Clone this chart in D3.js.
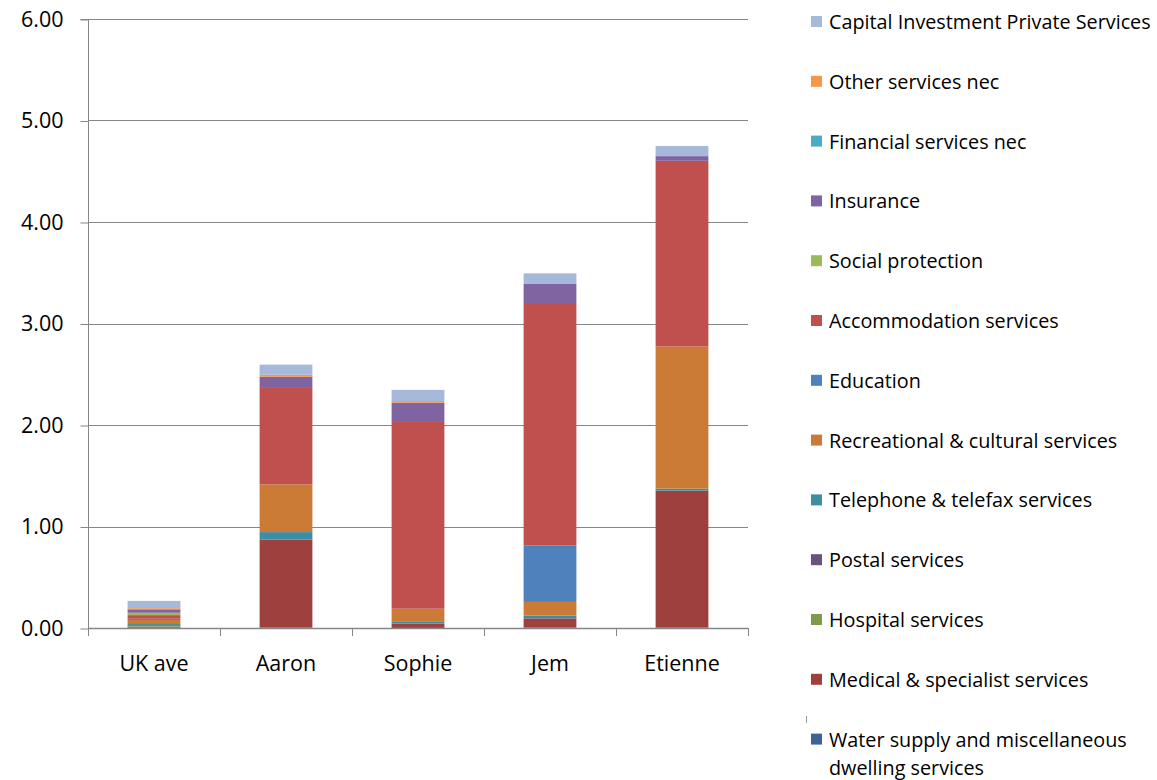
<!DOCTYPE html>
<html>
<head>
<meta charset="utf-8">
<script src="https://cdn.jsdelivr.net/npm/d3@7/dist/d3.min.js"></script>
<style>
  html, body { margin: 0; padding: 0; background: #fff; }
  svg { display: block; }
  text { font-family: "Open Sans", sans-serif; fill: #000; }
</style>
</head>
<body>
<svg id="chart" width="1157" height="780"></svg>
<script>
// Categories along the x axis
const categories = ["UK ave", "Aaron", "Sophie", "Jem", "Etienne"];

// Spending per category, one array per service (stack order, bottom to top)
const waterSupply      = [0.005, 0.005, 0.010, 0.005, 0.005];
const medical          = [0.008, 0.865, 0.030, 0.090, 1.348];
const hospital         = [0.006, 0.000, 0.000, 0.000, 0.000];
const postal           = [0.008, 0.000, 0.005, 0.000, 0.000];
const telephone        = [0.012, 0.075, 0.015, 0.027, 0.020];
const recreational     = [0.040, 0.470, 0.130, 0.135, 1.400];
const education        = [0.012, 0.000, 0.000, 0.555, 0.000];
const accommodation    = [0.036, 0.950, 1.840, 2.390, 1.830];
const socialProtection = [0.023, 0.000, 0.000, 0.000, 0.000];
const insurance        = [0.033, 0.110, 0.190, 0.187, 0.046];
const financial        = [0.007, 0.000, 0.000, 0.000, 0.000];
const otherServices    = [0.007, 0.020, 0.016, 0.000, 0.000];
const capitalInvest    = [0.070, 0.100, 0.110, 0.105, 0.100];

const seriesNames = [
  "Water supply and miscellaneous dwelling services",
  "Medical & specialist services",
  "Hospital services",
  "Postal services",
  "Telephone & telefax services",
  "Recreational & cultural services",
  "Education",
  "Accommodation services",
  "Social protection",
  "Insurance",
  "Financial services nec",
  "Other services nec",
  "Capital Investment Private Services"
];
const seriesValues = [waterSupply, medical, hospital, postal, telephone, recreational,
  education, accommodation, socialProtection, insurance, financial, otherServices, capitalInvest];
const seriesColors = ["#3E6497", "#9E413E", "#7F9A48", "#69537E", "#3D8DA4", "#CB7B35",
  "#4F81BD", "#C0504D", "#9BBB59", "#8064A2", "#4BACC6", "#F79646", "#A7B9DA"];

const yTicks = [0, 1, 2, 3, 4, 5, 6];

const svg = d3.select("#chart");
const plot = { left: 88, right: 748, top: 19, bottom: 628 };

const x = d3.scaleBand().domain(categories).range([plot.left, plot.right]).padding(0);
const y = d3.scaleLinear().domain([0, 6]).range([plot.bottom, plot.top]);
const barW = x.bandwidth() * 0.4;

// Build the stack from the per-series arrays
const rows = categories.map((c, i) => {
  const r = { cat: c };
  seriesNames.forEach((s, k) => { r[s] = seriesValues[k][i]; });
  return r;
});
const stacked = d3.stack().keys(seriesNames)(rows);

// Horizontal gridlines
svg.append("g").selectAll("line").data(yTicks.filter(d => d > 0)).join("line")
  .attr("x1", plot.left).attr("x2", plot.right)
  .attr("y1", d => Math.round(y(d)) + 0.5).attr("y2", d => Math.round(y(d)) + 0.5)
  .attr("stroke", "#868686").attr("stroke-width", 1);

// Bars
svg.append("g").selectAll("g").data(stacked).join("g")
  .attr("fill", (d, i) => seriesColors[i])
  .selectAll("rect").data(d => d).join("rect")
  .attr("x", d => x(d.data.cat) + (x.bandwidth() - barW) / 2)
  .attr("width", barW)
  .attr("y", d => y(d[1]))
  .attr("height", d => Math.max(0, y(d[0]) - y(d[1])));

// Y axis
const yAxis = d3.axisLeft(y).tickValues(yTicks).tickFormat(d3.format(".2f")).tickSize(8).tickPadding(17);
const gy = svg.append("g").attr("transform", `translate(${plot.left + 0.5},0.5)`).call(yAxis);
gy.select(".domain").attr("stroke", "#868686").attr("d", `M-8,${plot.top}H0V${plot.bottom}`);
gy.selectAll(".tick line").attr("stroke", "#868686");
gy.selectAll(".tick text").style("font-size", "21.5px").style("font-family", "'Open Sans', sans-serif").attr("fill", "#000");

// X axis
const xAxisLine = svg.append("g");
xAxisLine.append("line")
  .attr("x1", plot.left).attr("x2", plot.right)
  .attr("y1", plot.bottom + 0.5).attr("y2", plot.bottom + 0.5)
  .attr("stroke", "#868686").attr("stroke-width", 1.5);
const bounds = categories.map(c => x(c)).concat([plot.right]);
xAxisLine.selectAll("line.tk").data(bounds).join("line").attr("class", "tk")
  .attr("x1", d => Math.round(d) + 0.5).attr("x2", d => Math.round(d) + 0.5)
  .attr("y1", plot.bottom).attr("y2", plot.bottom + 8)
  .attr("stroke", "#868686");
svg.append("g").selectAll("text").data(categories).join("text")
  .attr("x", d => x(d) + x.bandwidth() / 2)
  .attr("y", 671)
  .attr("text-anchor", "middle")
  .style("font-size", "21.5px")
  .text(d => d);

// Legend (top entry is the top of the stack)
const legendOrder = seriesNames.map((s, i) => i).reverse();
const lg = svg.append("g");
const lgItem = lg.selectAll("g").data(legendOrder).join("g")
  .attr("transform", (d, j) => `translate(811,${22 + j * 59.8})`);
lgItem.append("rect")
  .attr("x", 0).attr("y", -6).attr("width", 11).attr("height", 11)
  .attr("fill", d => seriesColors[d]);
lgItem.each(function(d) {
  const g = d3.select(this);
  const name = seriesNames[d];
  const t = g.append("text").attr("x", 18).attr("y", 7).style("font-size", "19.8px");
  if (name.startsWith("Water supply")) {
    t.append("tspan").attr("x", 18).text("Water supply and miscellaneous");
    t.append("tspan").attr("x", 18).attr("dy", 28).text("dwelling services");
  } else {
    t.text(name);
  }
});
// small mark above the last legend entry
lg.append("line").attr("x1", 806.5).attr("x2", 806.5).attr("y1", 716).attr("y2", 723)
  .attr("stroke", "#999").attr("stroke-width", 1);
</script>
</body>
</html>
